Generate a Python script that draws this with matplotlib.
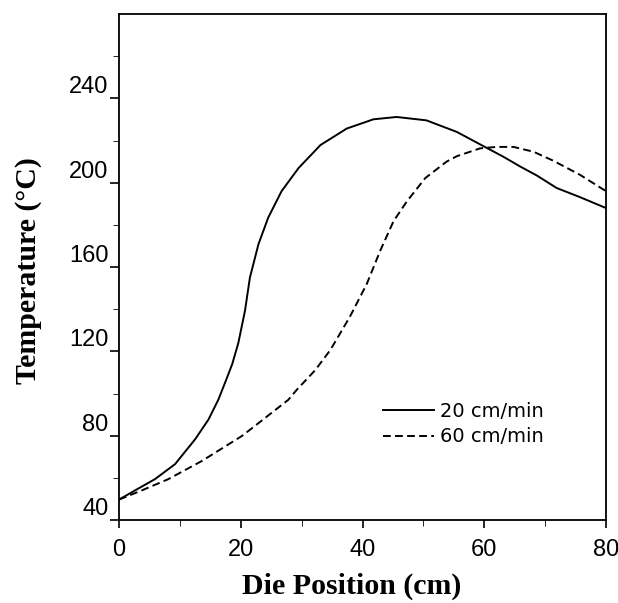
import matplotlib.pyplot as plt
from matplotlib.ticker import MultipleLocator

# die position (cm) and temperature (C)
x_20 = [0, 2.6, 5.9, 9.2, 12.5, 14.7, 16.3, 17.4, 18.6, 19.6, 20.7, 21.5, 22.9, 24.5, 26.7, 29.5,
        33.1, 37.4, 41.8, 45.6, 50.5, 55.5, 60.1, 63.1, 65.9, 68.6, 71.9, 75.7, 80]
t_20 = [49.7, 54, 59.4, 66.5, 78.3, 87.7, 97, 105, 114, 124, 139.4, 155, 170.8, 183.4, 196, 207,
        217.9, 225.7, 230.1, 231.2, 229.6, 224.1, 217, 212.4, 207.7, 203.5, 197.5, 193.2, 188]

x_60 = [0, 3.7, 8.1, 13.6, 20.2, 22.3, 27.8, 29.2, 32.2, 34.7, 37.9, 40.7, 42.9, 45.1, 47.3,
        50.3, 53.8, 55.5, 59.3, 62, 64.8, 68.1, 71.3, 75.7, 80]
t_60 = [49.7, 54, 59.4, 68, 79.9, 84.6, 97, 101.8, 111, 120.6, 136.3, 152, 167.7, 181.8, 191.2,
        202.2, 210, 212.6, 216.3, 217, 217, 214.7, 210.5, 203.8, 196]

labels = ["20 cm/min", "60 cm/min"]

fig = plt.figure(figsize=(6.18, 6.03), dpi=100)
ax = fig.add_axes([0.1926, 0.1376, 0.788, 0.839])

ax.plot(x_20, t_20, color="black", linewidth=1.4, label=labels[0])
ax.plot(x_60, t_60, color="black", linewidth=1.4, linestyle=(0, (4, 2.2)), label=labels[1])

ax.set_xlim(0, 80)
ax.set_ylim(40, 280)
ax.xaxis.set_major_locator(MultipleLocator(20))
ax.xaxis.set_minor_locator(MultipleLocator(10))
ax.set_yticks([40, 80, 120, 160, 200, 240])
ax.set_yticks([60, 100, 140, 180, 220, 260], minor=True)

ax.tick_params(direction="out", top=False, right=False, width=1.2)
ax.tick_params(axis="x", which="major", length=6, pad=8, labelsize=17)
ax.tick_params(axis="x", which="minor", length=4)
ax.tick_params(axis="y", which="major", length=6.5, pad=1, labelsize=17)
ax.tick_params(axis="y", which="minor", length=4)
for t in ax.get_xticklabels() + ax.get_yticklabels():
    t.set_fontfamily("Liberation Sans")
for t in ax.get_yticklabels():
    t.set_verticalalignment("bottom")
for s in ax.spines.values():
    s.set_linewidth(1.3)

ax.set_xlabel("Die Position (cm)", fontsize=21.5, fontweight="bold", family="Liberation Serif")
ax.set_ylabel("Temperature (\u00b0C)", fontsize=21.5, fontweight="bold", family="Liberation Serif")
ax.xaxis.set_label_coords(0.478, -0.105)
ax.yaxis.set_label_coords(-0.158, 0.494)

ax.legend(loc="upper left", bbox_to_anchor=(383 / 618, 1 - 402 / 603), bbox_transform=fig.transFigure,
          frameon=False, borderpad=0, borderaxespad=0, handlelength=2.6, handletextpad=0.35,
          labelspacing=0.33, prop={"family": "DejaVu Sans", "size": 14})

fig.savefig("out.png", dpi=100)
